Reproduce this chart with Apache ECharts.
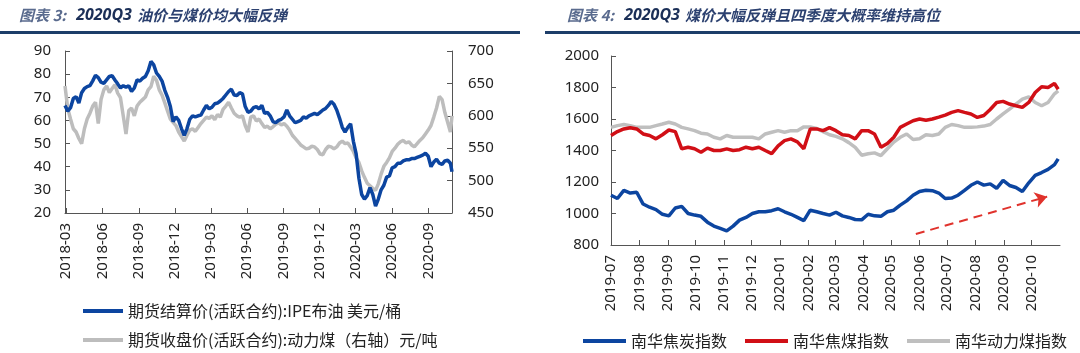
<!DOCTYPE html>
<html><head><meta charset="utf-8">
<script src="https://cdn.jsdelivr.net/npm/echarts@6/dist/echarts.min.js"></script>
<style>html,body{margin:0;padding:0;background:#fff}#c{width:1080px;height:353px}</style>
</head><body><div id="c"></div>
<script>
// ---------- Left chart data (weekly, from 2018-02-26, last point 2020-10-30) ----------
const leftTickLabels = ['2018-03','2018-06','2018-09','2018-12','2019-03','2019-06','2019-09','2019-12','2020-03','2020-06','2020-09'];
const brentOil = [
  66.5, 64.0, 65.5, 69.5, 70.3, 67.5, 72.0, 73.8, 74.6, 75.0,
  77.1, 79.5, 78.5, 76.5, 76.0, 77.5, 79.0, 79.3, 77.5, 75.8,
  74.0, 75.0, 74.3, 75.0, 72.5, 74.0, 77.5, 77.0, 78.2, 79.0,
  81.5, 85.5, 84.0, 80.5, 79.0, 77.0, 73.0, 70.0, 66.0, 59.5,
  61.5, 60.0, 56.5, 53.5, 56.5, 60.5, 62.0, 61.5, 62.0, 62.3,
  64.5, 66.5, 65.0, 65.7, 67.2, 67.5, 68.4, 69.5, 71.0, 72.5,
  73.5, 71.0, 70.8, 72.0, 71.5, 66.0, 63.5, 64.0, 65.5, 66.0,
  65.0, 66.5, 63.0, 63.5, 62.0, 59.5, 59.0, 60.0, 60.5, 61.5,
  64.5, 62.0, 60.5, 59.0, 59.5, 60.0, 61.5, 61.0, 62.0, 62.5,
  63.0, 62.5, 63.5, 64.5, 65.2, 66.5, 68.2, 67.0, 64.5, 61.0,
  57.0, 55.0, 57.0, 58.5, 51.0, 45.5, 35.0, 28.0, 26.0, 27.5,
  31.0, 28.0, 23.0, 26.0, 30.0, 32.0, 35.5, 36.0, 39.5, 40.0,
  41.5, 41.5, 42.5, 43.0, 43.0, 43.5, 43.5, 44.0, 44.5, 45.0,
  45.8, 44.5, 40.0, 42.0, 43.2, 41.5, 41.0, 42.5, 42.8, 41.5,
  37.8
];
const thermalCoal = [
  646, 611, 595, 580, 575, 565, 557, 580, 595, 604,
  615, 621, 588, 625, 640, 646, 636, 642, 648, 635,
  628, 600, 572, 608, 612, 600, 615, 621, 625, 629,
  640, 645, 661, 655, 640, 632, 620, 607, 595, 590,
  585, 575, 568, 561, 570, 578, 580, 576, 582, 588,
  593, 598, 596, 600, 594, 602, 598, 610, 615, 621,
  612, 604, 600, 598, 600, 585, 575, 598, 600, 592,
  595, 588, 582, 584, 580, 583, 587, 589, 586, 588,
  584, 578, 570, 565, 560, 555, 552, 549, 550, 553,
  552, 548, 541, 540, 548, 553, 552, 549, 552, 558,
  561, 557, 558, 552, 545, 535, 528, 515, 505, 496,
  492, 488, 485, 495, 510, 522, 528, 535, 545, 550,
  556, 560, 562, 558, 560, 555, 552, 557, 562, 566,
  572, 578, 585, 598, 612, 630, 625, 605, 590, 575,
  600
];
// ---------- Right chart data (weekly, from 2019-07-01, last point 2020-10-30) ----------
const rightTickLabels = ['2019-07','2019-08','2019-09','2019-10','2019-11','2019-12','2020-01','2020-02','2020-03','2020-04','2020-05','2020-06','2020-07','2020-08','2020-09','2020-10'];
const cokeIndex = [
  1116, 1095, 1147, 1130, 1135, 1060, 1040, 1025, 995, 985,
  1035, 1045, 1000, 990, 982, 945, 920, 905, 890, 920,
  958, 975, 1000, 1011, 1011, 1018, 1030, 1011, 995, 975,
  955, 1021, 1011, 1000, 990, 1008, 985, 975, 962, 960,
  995, 985, 982, 1011, 1021, 1053, 1080, 1116, 1140, 1147,
  1145, 1130, 1095, 1098, 1116, 1147, 1179, 1200, 1180, 1188,
  1160, 1210, 1178, 1165, 1140, 1195, 1242, 1260, 1280, 1310,
  1347
];
const cokingCoalIndex = [
  1495, 1520, 1537, 1545, 1537, 1505, 1495, 1474, 1500, 1530,
  1520, 1411, 1421, 1411, 1389, 1415, 1400, 1400, 1410, 1400,
  1405, 1421, 1411, 1421, 1400, 1380, 1430, 1463, 1474, 1455,
  1411, 1537, 1537, 1526, 1545, 1526, 1500, 1495, 1474, 1526,
  1526, 1505, 1421, 1445, 1484, 1547, 1568, 1589, 1600, 1592,
  1600, 1612, 1625, 1642, 1653, 1642, 1632, 1610, 1622, 1660,
  1705, 1712, 1695, 1684, 1674, 1705, 1768, 1805, 1800, 1825,
  1789
];
const thermalCoalIndex = [
  1547, 1558, 1565, 1558, 1547, 1547, 1547, 1558, 1568, 1579,
  1568, 1547, 1537, 1526, 1510, 1505, 1484, 1474, 1495, 1484,
  1484, 1484, 1484, 1474, 1505, 1516, 1526, 1516, 1526, 1526,
  1550, 1550, 1540, 1520, 1500, 1490, 1474, 1450, 1420, 1370,
  1379, 1385, 1368, 1411, 1453, 1484, 1505, 1470, 1474, 1500,
  1495, 1505, 1547, 1565, 1558, 1547, 1547, 1550, 1555, 1565,
  1600, 1632, 1663, 1695, 1726, 1740, 1705, 1684, 1705, 1760,
  1779
];
const seriesNames = {
  oil: '期货结算价(活跃合约):IPE布油 美元/桶',
  coal: '期货收盘价(活跃合约):动力煤（右轴）元/吨',
  coke: '南华焦炭指数',
  coking: '南华焦煤指数',
  thermal: '南华动力煤指数'
};

function weekly(y, m, d, n, lastY, lastM, lastD) {
  const out = [];
  for (let i = 0; i < n; i++) out.push(new Date(y, m - 1, d + 7 * i).getTime());
  out.push(new Date(lastY, lastM - 1, lastD).getTime());
  return out;
}
const leftDates = weekly(2018, 2, 26, 140, 2020, 10, 30);
const rightDates = weekly(2019, 7, 1, 70, 2020, 10, 30);
const zip = (xs, ys) => xs.map((x, i) => [x, ys[i]]);
const monthTs = s => { const p = s.split('-'); return new Date(+p[0], +p[1] - 1, 1).getTime(); };
const fmtMonth = v => { const d = new Date(v); return d.getFullYear() + '-' + String(d.getMonth() + 1).padStart(2, '0'); };

const tickFont = { fontFamily: 'Noto Sans', fontSize: 15, color: '#222' };
const axisCol = '#555';

function xAx(grid, min, max, ticks) {
  const vals = ticks.map(monthTs);
  return {
    type: 'value', gridIndex: grid, min: min, max: max, scale: true,
    axisLine: { show: true, onZero: false, lineStyle: { color: axisCol, width: 1 } },
    axisTick: { show: true, inside: true, length: 5, lineStyle: { color: axisCol }, customValues: vals },
    axisLabel: Object.assign({ rotate: 90, margin: 10, hideOverlap: false, customValues: vals, formatter: fmtMonth }, tickFont),
    splitLine: { show: false }
  };
}
function yAx(grid, min, max, interval, pos, margin) {
  return {
    type: 'value', gridIndex: grid, min: min, max: max, interval: interval, position: pos,
    axisLine: { show: true, lineStyle: { color: axisCol, width: 1 } },
    axisTick: { show: true, inside: true, length: 5, lineStyle: { color: axisCol } },
    axisLabel: Object.assign({ margin: margin, formatter: v => String(v) }, tickFont),
    splitLine: { show: false }
  };
}

const titleRich = {
  a: { fontFamily: 'Noto Sans CJK SC', fontSize: 15, fontStyle: 'italic', color: '#5a6b8e' },
  b: { fontFamily: 'Noto Sans', fontSize: 16, fontStyle: 'italic', fontWeight: 'bold', color: '#1b2f57' },
  c: { fontFamily: 'Noto Sans CJK SC', fontSize: 15, fontStyle: 'italic', color: '#2c4170' }
};
const legendText = { fontFamily: 'Noto Sans CJK SC', fontSize: 16, color: '#222' };

const chart = echarts.init(document.getElementById('c'), null, { renderer: 'canvas' });
chart.setOption({
  backgroundColor: '#ffffff',
  animation: false,
  title: [
    { left: 14, top: 1, text: '{a|图表 3:}  {b|2020Q3} {c|油价与煤价均大幅反弹}', textStyle: { rich: titleRich } },
    { left: 562, top: 1, text: '{a|图表 4:}  {b|2020Q3} {c|煤价大幅反弹且四季度大概率维持高位}', textStyle: { rich: titleRich } }
  ],
  graphic: [
    { type: 'rect', shape: { x: 0, y: 31, width: 520, height: 3 }, style: { fill: '#1d3e69' } },
    { type: 'rect', shape: { x: 545, y: 31, width: 535, height: 3 }, style: { fill: '#1d3e69' } }
  ],
  grid: [
    { left: 65, top: 51, width: 387, height: 162 },
    { left: 611, top: 56, width: 449, height: 189 }
  ],
  xAxis: [
    xAx(0, leftDates[0], leftDates[leftDates.length - 1], leftTickLabels),
    xAx(1, new Date(2019, 6, 1).getTime(), new Date(2020, 10, 1).getTime(), rightTickLabels)
  ],
  yAxis: [
    yAx(0, 20, 90, 10, 'left', 14),
    yAx(0, 450, 700, 50, 'right', 16),
    yAx(1, 800, 2000, 200, 'left', 12)
  ],
  legend: [
    {
      left: 78, top: 298, itemWidth: 40, itemHeight: 4, icon: 'rect', itemGap: 4,
      data: [seriesNames.oil], textStyle: legendText
    },
    {
      left: 78, top: 327, itemWidth: 40, itemHeight: 4, icon: 'rect',
      data: [seriesNames.coal], textStyle: legendText
    },
    {
      orient: 'horizontal', left: 578, top: 328, itemGap: 18, itemWidth: 43, itemHeight: 4, icon: 'rect',
      data: [seriesNames.coke, seriesNames.coking, seriesNames.thermal], textStyle: legendText
    }
  ],
  series: [
    { name: seriesNames.coal, type: 'line', xAxisIndex: 0, yAxisIndex: 1, data: zip(leftDates, thermalCoal),
      showSymbol: false, lineStyle: { color: '#bdbdbd', width: 3.5 }, itemStyle: { color: '#bdbdbd' }, z: 2 },
    { name: seriesNames.oil, type: 'line', xAxisIndex: 0, yAxisIndex: 0, data: zip(leftDates, brentOil),
      showSymbol: false, lineStyle: { color: '#0c45a0', width: 3.5 }, itemStyle: { color: '#0c45a0' }, z: 3 },
    { name: seriesNames.thermal, type: 'line', xAxisIndex: 1, yAxisIndex: 2, data: zip(rightDates, thermalCoalIndex),
      showSymbol: false, lineStyle: { color: '#bfbfbf', width: 3.5 }, itemStyle: { color: '#bfbfbf' }, z: 2 },
    { name: seriesNames.coking, type: 'line', xAxisIndex: 1, yAxisIndex: 2, data: zip(rightDates, cokingCoalIndex),
      showSymbol: false, lineStyle: { color: '#d10f16', width: 3.5 }, itemStyle: { color: '#d10f16' }, z: 3 },
    { name: seriesNames.coke, type: 'line', xAxisIndex: 1, yAxisIndex: 2, data: zip(rightDates, cokeIndex),
      showSymbol: false, lineStyle: { color: '#0c45a0', width: 3.5 }, itemStyle: { color: '#0c45a0' }, z: 3,
      markLine: {
        silent: true, symbol: ['none', 'arrow'], symbolSize: 12, label: { show: false },
        lineStyle: { color: '#e0322c', type: [9, 6], width: 2 },
        data: [[ { coord: [new Date(2020, 4, 28).getTime(), 870] }, { coord: [new Date(2020, 9, 18).getTime(), 1107] } ]]
      }
    }
  ]
});
</script>
</body></html>
